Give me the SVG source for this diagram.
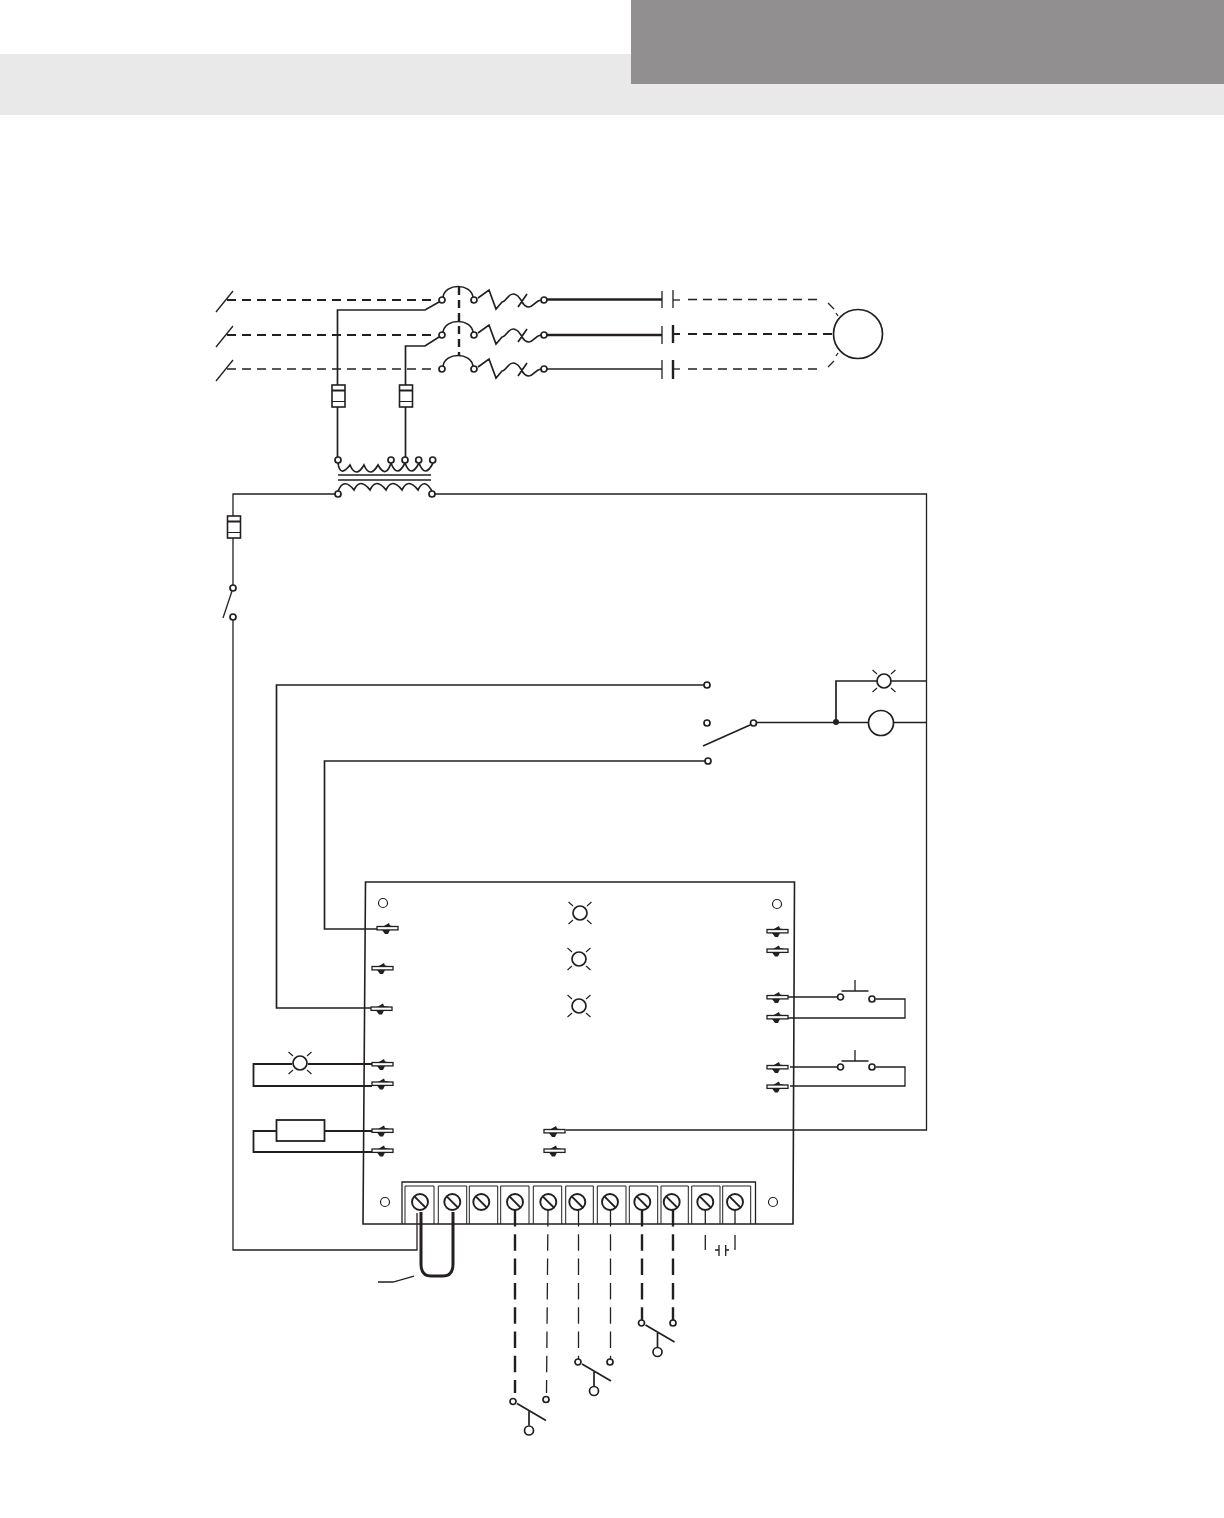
<svg xmlns="http://www.w3.org/2000/svg" xmlns:xlink="http://www.w3.org/1999/xlink" width="1224" height="1518" viewBox="0 0 1224 1518">
<style>
.w{fill:none;stroke:#231f20;stroke-width:1.3}
.m{fill:none;stroke:#231f20;stroke-width:1.7}
.h{fill:none;stroke:#231f20;stroke-width:2}
.t{fill:none;stroke:#231f20;stroke-width:2.4}
.d{stroke-dasharray:9 6}
.l{stroke-dasharray:16.5 7.8}
.c{fill:#fff;stroke:#231f20;stroke-width:1.7}
.s{fill:#fff;stroke:#231f20;stroke-width:1.2}
.r{fill:none;stroke:#231f20;stroke-width:1.1}
</style>
<defs>
<g id="spade"><rect x="0" y="-1.5" width="21" height="3.4" fill="#fff" stroke="#231f20" stroke-width="1.3"/><path d="M6 -1.5L12 -5L13 -2.500L18 -1.500ZM5 1.900L13 1.900L11 6L8 6Z" fill="#231f20"/></g>
<g id="lamp"><circle r="7" class="c"/><path class="r" d="M-7 -7L-11.500 -11M7 -7L11.500 -11M-7 7L-11.500 11M7 7L11.500 11"/></g>
<g id="fuse"><rect x="-6.500" y="-11" width="13" height="22" fill="#fff" stroke="#231f20" stroke-width="1.600"/><path d="M-6.500 -5.500H6.500" stroke="#231f20" stroke-width="2"/><path d="M-6.500 5.500H6.500" stroke="#231f20" stroke-width="1"/></g>
<g id="breaker"><path class="m" d="M443 -3C445 -17 471 -17 473 -3"/><path class="m" d="M478 -2L489 -10L496 9L502 2C506 2 508 -6 513 -6C518 -6 519 -2 521 0C524 6 526 7 529 7C533 7 535 1 541 0M518 7L527 -6"/><circle cx="442" r="3" class="c"/><circle cx="474" r="3" class="c"/><circle cx="544" r="3" class="c"/></g>
<g id="screw"><circle r="8" class="c" style="stroke-width:1.900"/><path d="M-5.600 -5.600L5.600 5.600" stroke="#231f20" stroke-width="2"/></g>
<g id="swlink"><path class="m" d="M4 2L33 19M16 10V24"/><circle r="3" class="c"/><circle cx="16" cy="29" r="4.500" class="c"/></g>
<g id="pb"><path class="w" d="M1 -6H28M14.500 -6V-17"/><circle r="3" class="c"/></g>
</defs>

<g id="header"><rect x="0" y="54" width="1224" height="61" fill="#e9e9e9"/><rect x="631" y="0" width="593" height="84" fill="#918f8f"/></g>

<g id="connectors">
<path class="h d" d="M227 300H436"/><path class="h d" d="M227 335H436"/><path class="w d" d="M227 369H436"/>
<path class="w" d="M216 312L233 291M216 347L233 326M216 381L233 360"/>
<path class="t" d="M459 287V356" stroke-dasharray="8 5"/>
<path class="t" d="M547 299.500H662"/><path class="t" d="M547 335H662"/><path class="w" d="M547 369H662"/>
<path class="w" d="M673 300H680"/><path class="w d" d="M688 299.500H822"/><path class="h" d="M673 334H680"/><path class="h d" d="M688 334H832"/><path class="w" d="M673 369H680"/><path class="w d" d="M688 369H822"/>
<path class="w" d="M828 303L834 309M836 313L838 316M828 367L834 361M836 356L838 353"/>
<path class="m" d="M439 302L425 310H337.500V385M337.500 407V458"/>
<path class="m" d="M439 337L425 346H405.500V385M405.500 407V458"/>
<path class="w" d="M335 494H233V516M233 538V585M233 620V1250H417V1213"/>
<path class="w" d="M435 494H926.500V1130H566"/>
<path class="m" d="M704 685H276.500V1008H372"/>
<path class="m" d="M705 761H324.500V929H378"/>
<path class="m" d="M757 722.500H869M893 722.500H926M836 722.500V681H877M891 681H926"/>
<path class="m" d="M292 1064H253.500V1086H372M308 1064H372" style="stroke-width:1.800"/>
<path class="m" d="M276 1131H253.500V1152H372M324 1131H372" style="stroke-width:1.800"/>
<path class="w" d="M788 997H837M876 999H905V1018H788"/>
<path class="w" d="M790 1067H837M876 1067H905V1086H790"/>
<path class="t l" d="M515 1210V1393"/>
<path class="w l" d="M548 1210L546.500 1393"/>
<path class="w l" d="M578.500 1210V1359"/>
<path class="w l" d="M610.500 1210V1359"/>
<path class="t l" d="M642 1210V1320"/>
<path class="t l" d="M673 1210V1320"/>
<path class="w" d="M705.300 1210V1224M705.300 1235V1250M735 1210V1224M735 1235V1250M715 1250H719M726 1250H729"/>
<path class="t" d="M421 1212V1264Q421 1276 431 1276H443Q453 1276 453 1264V1212" style="stroke-width:3"/>
<path class="w" d="M378 1282H393L414 1276"/>
</g>

<g id="breakers"><use xlink:href="#breaker" y="300"/><use xlink:href="#breaker" y="335"/><use xlink:href="#breaker" y="369"/></g>

<g id="contactor">
<path class="w" d="M662 291V308M662 326V344M662 360V379"/>
<path class="w" d="M673 290V308"/><path class="t" d="M673 325V343M673 360V379"/>
</g>

<g id="motor"><circle cx="858" cy="334" r="24.500" class="c"/></g>

<g id="fuse-1"><use xlink:href="#fuse" x="338.500" y="396"/></g>
<g id="fuse-2"><use xlink:href="#fuse" x="406" y="396"/></g>
<g id="fuse-3"><use xlink:href="#fuse" x="234" y="527"/></g>

<g id="transformer">
<path class="m" d="M338 463Q340 478 350 465Q356 479 364 465Q370 479 378 465Q386 479 391 463Q397 479 405 463Q411 479 419 463Q425 479 433 463"/>
<path class="m" d="M338 491Q344 477 354 490Q360 477 370 490Q376 477 386 490Q392 477 402 490Q408 477 418 490Q424 477 432 491"/>
<path class="m" d="M338 475H431M338 480H431"/>
<circle cx="338" cy="460" r="3" class="c"/><circle cx="391" cy="460" r="3" class="c"/><circle cx="405" cy="460" r="3" class="c"/><circle cx="418.700" cy="460" r="3" class="c"/><circle cx="432.700" cy="460" r="3" class="c"/>
<circle cx="338" cy="494" r="3" class="c"/><circle cx="432" cy="494" r="3" class="c"/>
</g>

<g id="control-switch"><circle cx="233" cy="588" r="3" class="c"/><circle cx="233" cy="617" r="3" class="c"/><path class="w" d="M232 591L223 618"/></g>

<g id="selector">
<circle cx="707" cy="685" r="3" class="c"/><circle cx="707" cy="723" r="3" class="c"/><circle cx="708" cy="761" r="3" class="c"/><circle cx="753.500" cy="723" r="3" class="c"/>
<path class="m" d="M703 746L750 725"/><circle cx="836" cy="722" r="3" fill="#231f20"/>
</g>
<g id="pilot-lamp"><use xlink:href="#lamp" x="884" y="681"/></g>
<g id="relay-coil"><circle cx="881" cy="723" r="12.500" class="c"/></g>

<g id="board">
<path d="M365.500 882H794.500L793 1224H363Z" fill="none" stroke="#231f20" stroke-width="1.600"/>
<circle cx="383" cy="903" r="4.500" class="s"/><circle cx="777" cy="904" r="4.500" class="s"/><circle cx="385" cy="1202" r="4.500" class="s"/><circle cx="773" cy="1202" r="4.500" class="s"/>
</g>
<g id="board-lamps"><use xlink:href="#lamp" x="580" y="913"/><use xlink:href="#lamp" x="579" y="959"/><use xlink:href="#lamp" x="579" y="1006"/></g>

<g id="spades">
<use xlink:href="#spade" x="377" y="928"/><use xlink:href="#spade" x="372" y="968"/><use xlink:href="#spade" x="371" y="1008.500"/><use xlink:href="#spade" x="372" y="1064"/><use xlink:href="#spade" x="372" y="1083.500"/><use xlink:href="#spade" x="372" y="1130.500"/><use xlink:href="#spade" x="372" y="1150.500"/><use xlink:href="#spade" x="544" y="1131"/><use xlink:href="#spade" x="544" y="1150.500"/>
<use xlink:href="#spade" x="767" y="931"/><use xlink:href="#spade" x="767" y="950.500"/><use xlink:href="#spade" x="767" y="997"/><use xlink:href="#spade" x="767" y="1017"/><use xlink:href="#spade" x="767" y="1067"/><use xlink:href="#spade" x="767" y="1086.500"/>
</g>

<g id="lamp-left"><use xlink:href="#lamp" x="300" y="1063"/></g>
<g id="resistor"><rect x="276.500" y="1120" width="48" height="21" fill="#fff" stroke="#231f20" stroke-width="1.800"/></g>
<g id="pushbutton-1"><use xlink:href="#pb" x="840.500" y="997"/><circle cx="872" cy="999" r="3" class="c"/></g>
<g id="pushbutton-2"><use xlink:href="#pb" x="840.500" y="1067"/><circle cx="872" cy="1067" r="3" class="c"/></g>

<g id="terminal-strip">
<path d="M402 1224V1182H755.500V1224" fill="none" stroke="#231f20" stroke-width="1.300"/>
<path d="M405 1224V1186H434V1224M438.300 1224V1186H466.700V1224M469.300 1224V1186H497.700V1224M500.700 1224V1186H529V1224M533.300 1224V1186H561.700V1224M565.700 1224V1186H593.300V1224M597.300 1224V1186H626V1224M629.300 1224V1186H657.700V1224M661 1224V1186H688.300V1224M691.700 1224V1186H720V1224M722.700 1224V1186H750.700V1224" fill="none" stroke="#231f20" stroke-width="1"/>
<use xlink:href="#screw" x="420" y="1202"/><use xlink:href="#screw" x="452.300" y="1202"/><use xlink:href="#screw" x="481.300" y="1202"/><use xlink:href="#screw" x="515" y="1202"/><use xlink:href="#screw" x="548.300" y="1202"/><use xlink:href="#screw" x="577.300" y="1202"/><use xlink:href="#screw" x="610" y="1202"/><use xlink:href="#screw" x="642.300" y="1202"/><use xlink:href="#screw" x="671.700" y="1202"/><use xlink:href="#screw" x="705.300" y="1202"/><use xlink:href="#screw" x="735" y="1202"/>
</g>

<g id="capacitor"><path class="w" d="M719 1245V1256M725.700 1245V1256"/></g>

<g id="switch-1"><use xlink:href="#swlink" x="513" y="1401.500"/><circle cx="546" cy="1399.500" r="3" class="c"/></g>
<g id="switch-2"><use xlink:href="#swlink" x="578" y="1362"/><circle cx="610" cy="1362" r="3" class="c"/></g>
<g id="switch-3"><use xlink:href="#swlink" x="641.500" y="1323"/><circle cx="673" cy="1323" r="3" class="c"/></g>
</svg>
